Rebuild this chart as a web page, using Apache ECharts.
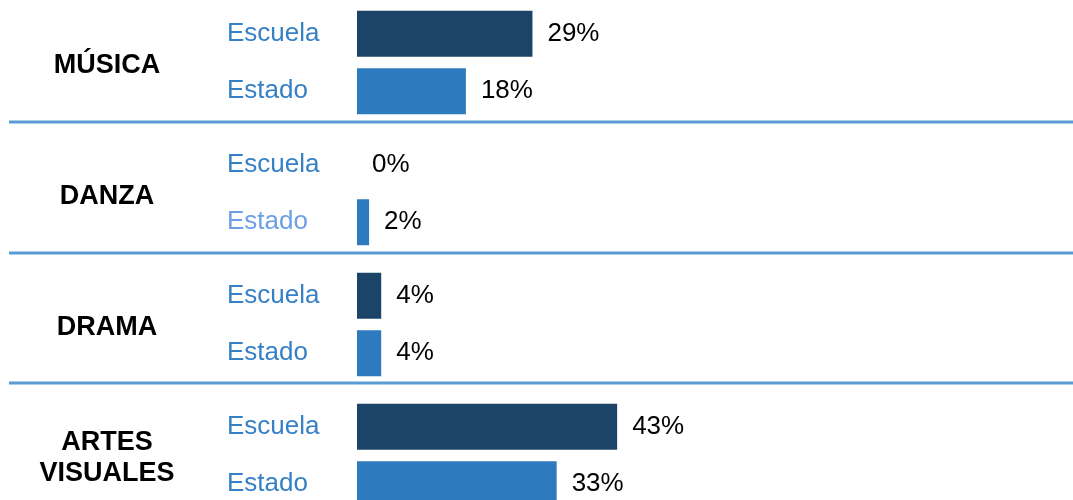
<!DOCTYPE html>
<html>
<head>
<meta charset="utf-8">
<script src="https://cdn.jsdelivr.net/npm/echarts@6/dist/echarts.min.js"></script>
<style>
  html, body { margin: 0; padding: 0; background: #fff; }
  #chart { width: 1073px; height: 500px; }
</style>
</head>
<body>
<div id="chart"></div>
<script>
  // datos (porcentaje)
  var groups = ['MÚSICA', 'DANZA', 'DRAMA', 'ARTES\nVISUALES']
  var rows = ['Escuela', 'Estado']
  var escuela = [29, 0, 4, 43]
  var estado = [18, 2, 4, 33]

  var font = 'Liberation Sans, Arial, sans-serif'
  var colEscuela = '#1c4468'
  var colEstado = '#2e7abf'
  var labelBlue = '#3580c6'

  var gridTops = [5, 136, 267, 398]
  var gridH = 115
  var lineYs = [122, 253, 383]

  var chart = echarts.init(document.getElementById('chart'), null, { renderer: 'canvas' })

  var grids = []
  var xAxes = []
  var yAxes = []
  var series = []
  var graphics = []

  for (var i = 0; i < groups.length; i++) {
    grids.push({
      left: 357, width: 605, top: gridTops[i], height: gridH,
      outerBoundsMode: 'none'
    })
    xAxes.push({
      type: 'value', gridIndex: i, min: 0, max: 100,
      show: false
    })
    yAxes.push({
      type: 'category', gridIndex: i, inverse: true,
      data: rows.map(function (r) {
        // en DANZA, "Estado" aparece en un azul más claro
        if (i === 1 && r === 'Estado') {
          return { value: r, textStyle: { color: '#6b9fe6', align: 'left' } }
        }
        return r
      }),
      axisLine: { show: false },
      axisTick: { show: false },
      splitLine: { show: false },
      axisLabel: {
        align: 'left',
        margin: 130,
        color: labelBlue,
        fontSize: 26,
        fontFamily: font,
        padding: [5, 0, 0, 0]
      }
    })
    series.push({
      type: 'bar',
      xAxisIndex: i,
      yAxisIndex: i,
      barWidth: 46,
      data: [
        { value: escuela[i], itemStyle: { color: colEscuela } },
        { value: estado[i], itemStyle: { color: colEstado } }
      ],
      label: {
        show: true,
        position: 'right',
        distance: 15,
        formatter: '{c}%',
        color: '#000',
        fontSize: 26,
        fontFamily: font,
        padding: [3, 0, 0, 0]
      },
      silent: true
    })
    graphics.push({
      type: 'text',
      x: 107,
      y: gridTops[i] + gridH / 2 + 3,
      style: {
        text: groups[i],
        fill: '#000',
        font: 'bold 27px ' + font,
        align: 'center',
        verticalAlign: 'middle',
        lineHeight: 31
      }
    })
  }

  lineYs.forEach(function (y) {
    graphics.push({
      type: 'line',
      shape: { x1: 9, y1: y, x2: 1073, y2: y },
      style: { stroke: '#5b9bd5', lineWidth: 3 }
    })
  })

  chart.setOption({
    animation: false,
    grid: grids,
    xAxis: xAxes,
    yAxis: yAxes,
    series: series,
    graphic: graphics
  })
</script>
</body>
</html>
